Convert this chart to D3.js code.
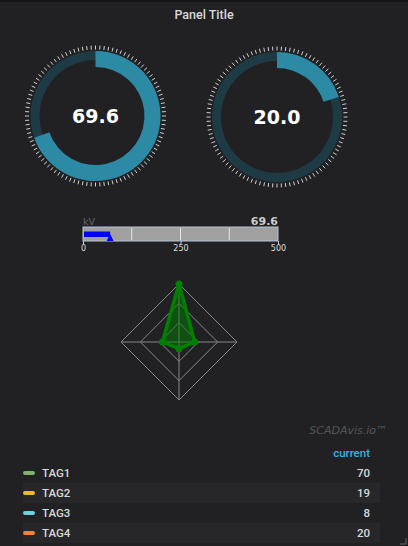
<!DOCTYPE html>
<html>
<head>
<meta charset="utf-8">
<script src="https://cdn.jsdelivr.net/npm/d3@7"></script>
<style>
  html, body { margin: 0; padding: 0; background: #212124; }
  svg { display: block; }
</style>
</head>
<body>
<svg id="chart" width="408" height="546"></svg>
<script>
// ---- data ----
const panelTitle = "Panel Title";
const gaugeValues = [69.6, 20.0];
const gaugeMax = 100;
const barUnit = "kV";
const barValue = 69.6;
const barDomain = [0, 500];
const barTickLabels = [0, 250, 500];
const tagNames = ["TAG1", "TAG2", "TAG3", "TAG4"];
const tagCurrent = [70, 19, 8, 20];
const tagColors = ["#7eb26d", "#eab839", "#6ed0e0", "#ef843c"];
const radarLevels = [1, 2, 3];
const legendHeader = "current";
const watermark = "SCADAvis.io\u2122";

// ---- drawing ----
const svg = d3.select("#chart");
svg.append("rect").attr("width", 408).attr("height", 546).attr("fill", "#212124");
svg.append("rect").attr("width", 408).attr("height", 2).attr("fill", "#141416");

svg.append("text").attr("x", 204).attr("y", 19).attr("text-anchor", "middle")
  .attr("font-family", "Roboto").attr("font-weight", 500).attr("font-size", 12.5)
  .attr("fill", "#d8d9da").text(panelTitle);

// gauges
const gaugeCenters = [[95.5, 116], [277, 117]];
const angle = d3.scaleLinear().domain([0, gaugeMax]).range([0, 2 * Math.PI]);
gaugeValues.forEach((v, i) => {
  const [cx, cy] = gaugeCenters[i];
  const g = svg.append("g").attr("transform", `translate(${cx},${cy})`);
  g.append("path").attr("d", d3.arc().innerRadius(56).outerRadius(65).startAngle(0).endAngle(2 * Math.PI)())
    .attr("fill", "#1e3b45");
  g.append("path").attr("d", d3.arc().innerRadius(49).outerRadius(65).startAngle(0).endAngle(angle(v))())
    .attr("fill", "#2c8aa5");
  const ticks = d3.range(0, 100);
  g.selectAll("line.t").data(ticks).enter().append("line")
    .attr("x1", d => 66.5 * Math.sin(d / 100 * 2 * Math.PI))
    .attr("y1", d => -66.5 * Math.cos(d / 100 * 2 * Math.PI))
    .attr("x2", d => 70.5 * Math.sin(d / 100 * 2 * Math.PI))
    .attr("y2", d => -70.5 * Math.cos(d / 100 * 2 * Math.PI))
    .attr("stroke", "#d0d0d0").attr("stroke-width", 1);
  g.append("text").attr("x", 0).attr("y", 7).attr("text-anchor", "middle")
    .attr("font-family", "DejaVu Sans").attr("font-weight", "bold").attr("font-size", 19)
    .attr("fill", "#ffffff").text(v.toFixed(1));
});

// bar gauge
const bx0 = 83, bx1 = 278, by0 = 227, by1 = 241;
const bx = d3.scaleLinear().domain(barDomain).range([bx0, bx1]);
svg.append("text").attr("x", bx0).attr("y", 224.5).attr("font-family", "DejaVu Sans")
  .attr("font-size", 9.5).attr("fill", "#666666").text(barUnit);
svg.append("text").attr("x", bx1).attr("y", 224.5).attr("text-anchor", "end")
  .attr("font-family", "DejaVu Sans").attr("font-weight", "bold").attr("font-size", 11)
  .attr("fill", "#cccccc").text(barValue.toFixed(1));
svg.append("rect").attr("x", bx0).attr("y", by0).attr("width", bx1 - bx0).attr("height", by1 - by0)
  .attr("fill", "#a0a0a0").attr("stroke", "#b8c4d4").attr("stroke-width", 1);
[125, 250, 375].forEach(t => {
  svg.append("line").attr("x1", bx(t)).attr("x2", bx(t)).attr("y1", by0 + 1).attr("y2", by1 - 1)
    .attr("stroke", "#e6e6e6").attr("stroke-width", 1);
});
svg.append("rect").attr("x", bx0 + 1).attr("y", 231.5).attr("width", bx(barValue) - bx0 - 1).attr("height", 5.5)
  .attr("fill", "#0000ff");
svg.append("path").attr("d", `M${bx(barValue)},234 L${bx(barValue) + 3.5},241 L${bx(barValue) - 3.5},241 Z`)
  .attr("fill", "#0000ff");
const axisG = svg.append("g").attr("transform", `translate(0,${by1})`)
  .call(d3.axisBottom(bx).tickValues(barTickLabels).tickSize(3).tickPadding(1));
axisG.select(".domain").remove();
axisG.selectAll("line").attr("stroke", "#cccccc");
axisG.selectAll("text").attr("fill", "#dddddd").attr("font-family", "DejaVu Sans").attr("font-size", 8);

// radar
const rcx = 179, rcy = 342, R = 58;
const rMax = d3.max(tagCurrent);
const rr = d3.scaleLinear().domain([0, rMax]).range([0, R]);
const ang = i => i / tagNames.length * 2 * Math.PI;
const pt = (i, r) => [r * Math.sin(ang(i)), -r * Math.cos(ang(i))];
const rg = svg.append("g").attr("transform", `translate(${rcx},${rcy})`);
radarLevels.forEach(l => {
  const r = R * l / radarLevels.length;
  rg.append("polygon").attr("points", tagNames.map((_, i) => pt(i, r).join(",")).join(" "))
    .attr("fill", "none").attr("stroke", "#888888").attr("stroke-width", 1);
});
tagNames.forEach((_, i) => {
  const p = pt(i, R);
  rg.append("line").attr("x1", 0).attr("y1", 0).attr("x2", p[0]).attr("y2", p[1])
    .attr("stroke", "#888888").attr("stroke-width", 1);
});
rg.append("polygon").attr("points", tagCurrent.map((v, i) => pt(i, rr(v)).join(",")).join(" "))
  .attr("fill", "rgba(0,128,0,0.5)").attr("stroke", "#008000").attr("stroke-width", 3.5)
  .attr("stroke-linejoin", "round");
tagCurrent.forEach((v, i) => {
  const p = pt(i, rr(v));
  rg.append("circle").attr("cx", p[0]).attr("cy", p[1]).attr("r", 3.5).attr("fill", "#008000");
});

// watermark
svg.append("text").attr("x", 387).attr("y", 434).attr("text-anchor", "end")
  .attr("font-family", "DejaVu Sans").attr("font-style", "italic").attr("font-size", 11)
  .attr("fill", "#555555").text(watermark);

// legend table
const rowY = d3.scaleBand().domain(tagNames).range([463, 543]);
svg.append("text").attr("x", 370).attr("y", 457).attr("text-anchor", "end")
  .attr("font-family", "Roboto").attr("font-weight", 500).attr("font-size", 11.5)
  .attr("fill", "#33b5e5").text(legendHeader);
tagNames.forEach((name, i) => {
  const y = rowY(name), h = rowY.bandwidth(), cy = y + h / 2;
  if (i % 2 === 1) {
    svg.append("rect").attr("x", 23).attr("y", y).attr("width", 357).attr("height", h).attr("fill", "#27272a");
  }
  svg.append("rect").attr("x", 23).attr("y", cy - 2).attr("width", 12).attr("height", 4).attr("rx", 2)
    .attr("fill", tagColors[i]);
  svg.append("text").attr("x", 42).attr("y", cy + 4).attr("font-family", "Roboto").attr("font-weight", 500)
    .attr("font-size", 11.5).attr("fill", "#d8d9da").text(name);
  svg.append("text").attr("x", 370).attr("y", cy + 4).attr("text-anchor", "end")
    .attr("font-family", "Roboto").attr("font-weight", 500).attr("font-size", 11.5)
    .attr("fill", "#d8d9da").text(tagCurrent[i]);
});
// resize handle
svg.append("path").attr("d", "M406,538 L406,544 L400,544").attr("fill", "none")
  .attr("stroke", "#666666").attr("stroke-width", 1);
</script>
</body>
</html>
